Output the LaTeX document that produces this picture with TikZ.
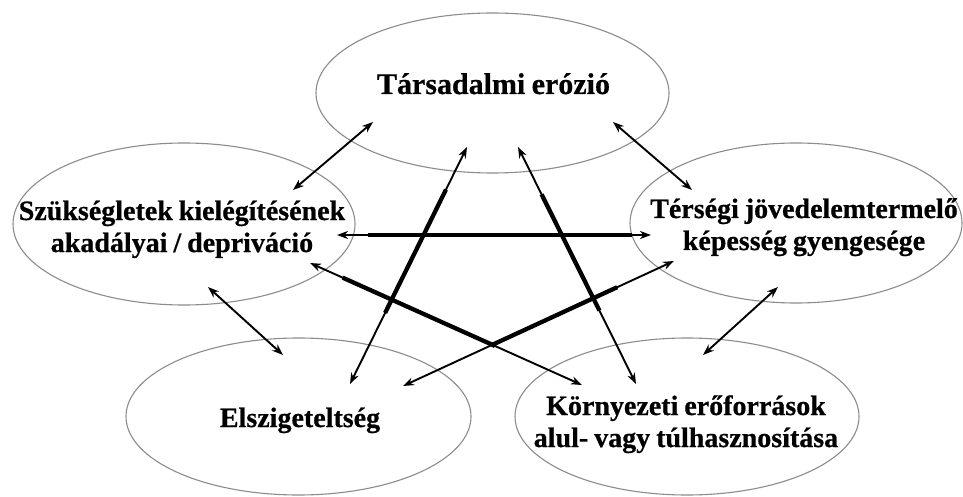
\documentclass[tikz,border=0pt]{standalone}
\usepackage{fontspec}
\setmainfont[WordSpace=0.85,BoldFeatures={FakeBold=0.6}]{Liberation Serif}
\usetikzlibrary{shapes.geometric,arrows.meta,calc}
\definecolor{ellgray}{HTML}{8C8C8C}
\begin{document}
\begin{tikzpicture}[x=1pt,y=1pt,
  ell/.style={draw=ellgray,line width=1.1pt,ellipse,inner sep=0pt},
  lbl/.style={font=\fontsize{28}{32}\selectfont\bfseries,inner sep=0pt,anchor=base,align=flush center},
  lbltwo/.style={lbl,text width=340pt},
  link/.style={line width=1.9pt,{Stealth[length=11pt,width=8pt,inset=3.5pt]}-{Stealth[length=11pt,width=8pt,inset=3.5pt]}},
  heavy/.style={line width=4.3pt}]
\useasboundingbox[fill=white] (0,0) rectangle (963,496);
% ellipses
\node[ell,minimum width=353pt,minimum height=160pt] (top) at (492.5,403) {};
\node[ell,minimum width=342pt,minimum height=162pt] (lft) at (184,272) {};
\node[ell,minimum width=332pt,minimum height=160pt] (rgt) at (796,273) {};
\node[ell,minimum width=345pt,minimum height=157pt] (bl) at (298.5,79.5) {};
\node[ell,minimum width=344pt,minimum height=157pt] (br) at (687,79.5) {};
% labels
\node[lbl,font=\fontsize{30}{34}\selectfont\bfseries] (ttop) at (493.5,402) {Társadalmi erózió};
\node[lbltwo] (tlft) at (182,276) {Szükségletek kielégítésének\\akadályai / depriváció};
\node[lbltwo] (trgt) at (804,278) {Térségi jövedelemtermelő\\képesség gyengesége};
\node[lbl] (tbl) at (300,69) {Elszigeteltség};
\node[lbltwo] (tbr) at (686,81) {Környezeti erőforrások\\alul- vagy túlhasznosítása};
% connector end points
\coordinate (a1s) at (373,374); \coordinate (a1e) at (293,306);
\coordinate (a2s) at (613,374); \coordinate (a2e) at (692,306);
\coordinate (a3s) at (208,209); \coordinate (a3e) at (283,141);
\coordinate (a4s) at (778,209); \coordinate (a4e) at (703,141);
\coordinate (a5s) at (337,261); \coordinate (a5e) at (651,261);
\coordinate (a6s) at (310,233); \coordinate (a6e) at (582,111);
\coordinate (a7s) at (674,235); \coordinate (a7e) at (403,110);
\coordinate (a8s) at (467,349); \coordinate (a8e) at (350,112);
\coordinate (a9s) at (518,349); \coordinate (a9e) at (636,112);
% neighbour links
\draw[link] (a1s) -- (a1e);
\draw[link] (a2s) -- (a2e);
\draw[link] (a3s) -- (a3e);
\draw[link] (a4s) -- (a4e);
% long links
\draw[link] (a5s) -- (a5e);
\draw[heavy] ($(a5s)!0.10!(a5e)$) -- ($(a5s)!0.94!(a5e)$);
\draw[link] (a6s) -- (a6e);
\draw[heavy] ($(a6s)!0.12!(a6e)$) -- ($(a6s)!0.68!(a6e)$);
\draw[link] (a7s) -- (a7e);
\draw[heavy] ($(a7s)!0.21!(a7e)$) -- ($(a7s)!0.67!(a7e)$);
\draw[link] (a8s) -- (a8e);
\draw[heavy] ($(a8s)!0.18!(a8e)$) -- ($(a8s)!0.70!(a8e)$);
\draw[link] (a9s) -- (a9e);
\draw[heavy] ($(a9s)!0.20!(a9e)$) -- ($(a9s)!0.69!(a9e)$);
\end{tikzpicture}
\end{document}
